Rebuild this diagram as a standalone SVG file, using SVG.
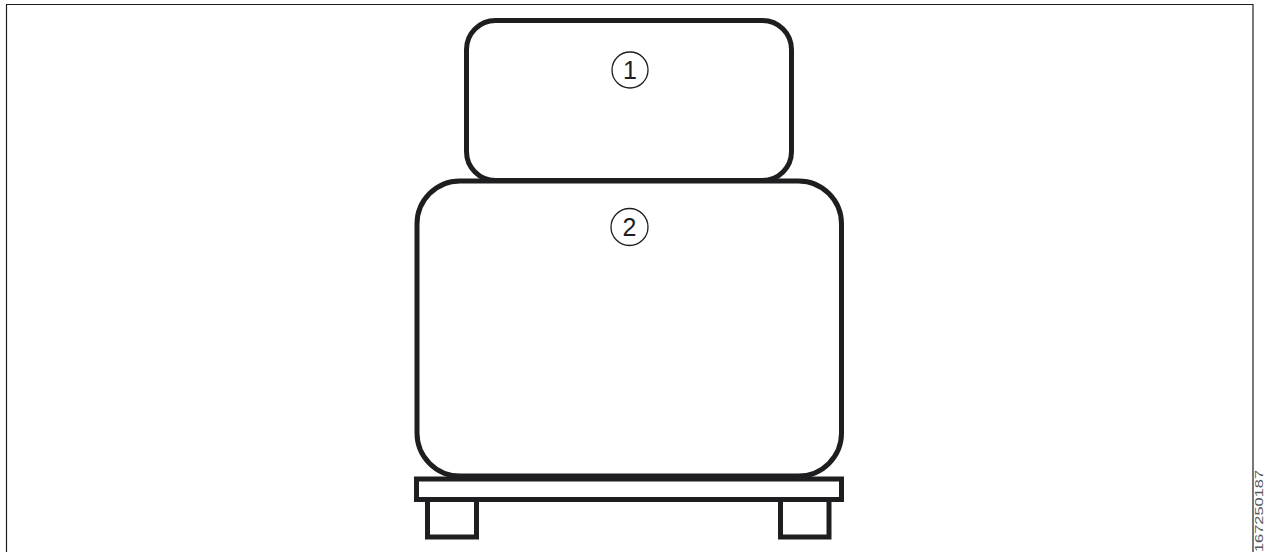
<svg xmlns="http://www.w3.org/2000/svg" width="1264" height="552" viewBox="0 0 1264 552">
  <style>
    .thick { fill: none; stroke: #1e1e20; stroke-width: 5; }
    .frame { fill: none; stroke: #1e1e20; stroke-width: 1.2; }
    .badge { fill: none; stroke: #1e1e20; stroke-width: 1.3; }
    .num { font-family: "Liberation Sans", Arial, sans-serif; font-size: 25px; fill: #1e1e20; text-anchor: middle; dominant-baseline: central; }
    .code { font-family: "Liberation Sans", Arial, sans-serif; font-size: 10px; fill: #555; }
  </style>
  <rect width="1264" height="552" fill="#ffffff"/>
  <path class="frame" d="M6.5 560 V4.5 H1253 V560"/>
  <g id="node-1">
    <rect class="thick" x="466.5" y="20.5" width="325" height="160" rx="29" ry="29"/>
    <circle class="badge" cx="630" cy="70" r="18"/>
    <text class="num" x="630" y="70">1</text>
  </g>
  <g id="node-2">
    <rect class="thick" x="417" y="181" width="424.5" height="295" rx="43" ry="43"/>
    <circle class="badge" cx="629.5" cy="227" r="18.5"/>
    <text class="num" x="629.5" y="227">2</text>
  </g>
  <g id="pallet">
    <rect class="thick" x="416.5" y="479" width="425" height="20.5"/>
    <rect class="thick" x="427.5" y="499.5" width="49" height="37.5"/>
    <rect class="thick" x="780.5" y="499.5" width="48.5" height="37.5"/>
  </g>
  <g id="connectors"></g>
  <text class="code" transform="translate(1262.5 552) rotate(-90)" textLength="82" lengthAdjust="spacingAndGlyphs">167250187</text>
</svg>
